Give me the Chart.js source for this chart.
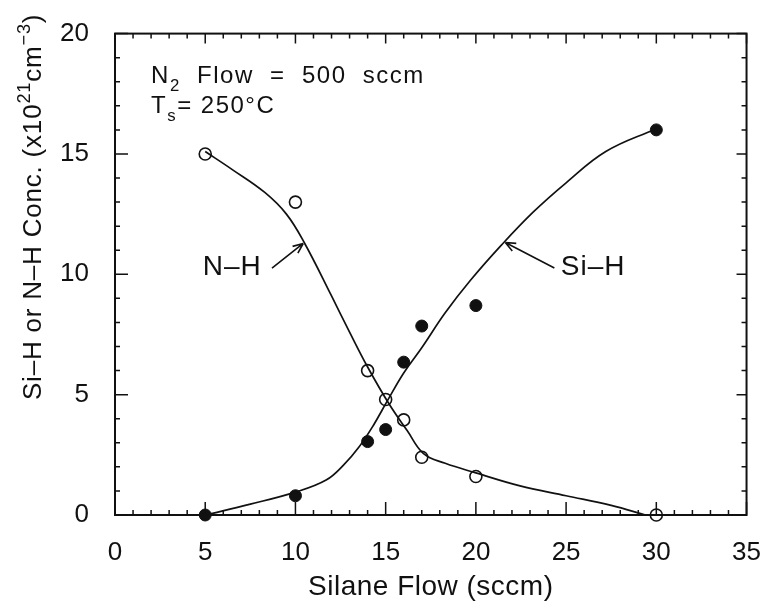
<!DOCTYPE html>
<html>
<head>
<meta charset="utf-8">
<script src="https://cdn.jsdelivr.net/npm/chart.js@4.4.0/dist/chart.umd.min.js"></script>
<style>
  html, body { margin: 0; padding: 0; background: #fff; }
  #wrap { width: 775px; height: 603px; }
</style>
</head>
<body>
<div id="wrap"><canvas id="chart" width="775" height="603"></canvas></div>
<script>
// ---- data ----
const silaneFlow = [5, 10, 14, 15, 16, 17, 20, 30];
const nhConc = [15.0, 13.0, 6.0, 4.8, 3.95, 2.4, 1.6, 0.0];
const sihConc = [0.0, 0.8, 3.05, 3.55, 6.35, 7.85, 8.7, 16.0];

// hand drawn fit curves
const nhFitFlow = [5, 6.5, 8.3, 9.5, 10.5, 12, 13, 14, 15.2, 16.2, 17.1, 18.3, 20, 22.5, 25, 27.5, 29.4];
const nhFitConc = [15.1, 14.35, 13.4, 12.5, 11.3, 9.1, 7.6, 6.15, 4.6, 3.5, 2.55, 2.15, 1.75, 1.2, 0.8, 0.4, 0.0];
const sihFitFlow = [5, 7.5, 10, 11.7, 12.7, 13.5, 14.3, 15.1, 16, 17, 18.3, 19.7, 21.4, 23.2, 25, 27.2, 30];
const sihFitConc = [0.0, 0.45, 0.95, 1.45, 2.1, 2.8, 3.7, 4.75, 5.9, 6.95, 8.4, 9.75, 11.2, 12.6, 13.8, 15.1, 16.05];

const xTicks = [0, 5, 10, 15, 20, 25, 30, 35];
const yTicks = [0, 5, 10, 15, 20];

const FONT = "'Liberation Sans', Arial, sans-serif";
const INK = '#111';

function toPts(xs, ys) {
  return xs.map((x, i) => ({ x: x, y: ys[i] }));
}

// draw text made of pieces, some of them sub/superscript
function drawRich(ctx, parts, x, y, size) {
  let cx = x;
  parts.forEach(p => {
    const s = (p.sub || p.sup) ? size * 0.7 : size;
    const dy = p.sup ? -size * 0.42 : (p.sub ? size * 0.32 : 0);
    ctx.font = s + 'px ' + FONT;
    ctx.fillText(p.t, cx, y + dy);
    cx += ctx.measureText(p.t).width;
  });
  return cx - x;
}

function richWidth(ctx, parts, size) {
  let w = 0;
  parts.forEach(p => {
    const s = (p.sub || p.sup) ? size * 0.7 : size;
    ctx.font = s + 'px ' + FONT;
    w += ctx.measureText(p.t).width;
  });
  return w;
}

function arrow(ctx, x1, y1, x2, y2) {
  const a = Math.atan2(y2 - y1, x2 - x1);
  ctx.beginPath();
  ctx.moveTo(x1, y1);
  ctx.lineTo(x2, y2);
  ctx.moveTo(x2, y2);
  ctx.lineTo(x2 - 11 * Math.cos(a - 0.4), y2 - 11 * Math.sin(a - 0.4));
  ctx.moveTo(x2, y2);
  ctx.lineTo(x2 - 11 * Math.cos(a + 0.4), y2 - 11 * Math.sin(a + 0.4));
  ctx.stroke();
}

// frame, inward ticks on all four sides, titles and notes
const framePlugin = {
  id: 'frame',
  afterDraw(chart) {
    const { ctx, chartArea: a, scales: { x, y } } = chart;
    ctx.save();
    ctx.strokeStyle = INK;
    ctx.fillStyle = INK;
    ctx.lineWidth = 2;
    ctx.strokeRect(a.left, a.top, a.right - a.left, a.bottom - a.top);

    ctx.lineWidth = 1.5;
    ctx.beginPath();
    for (let v = 0; v <= 35; v++) {
      const px = x.getPixelForValue(v);
      const major = v % 5 === 0;
      ctx.moveTo(px, a.bottom); ctx.lineTo(px, a.bottom - (major ? 13 : 5));
      ctx.moveTo(px, a.top); ctx.lineTo(px, a.top + (major ? 10 : 5));
    }
    for (let v = 0; v <= 20; v++) {
      const py = y.getPixelForValue(v);
      const major = v % 5 === 0;
      ctx.moveTo(a.left, py); ctx.lineTo(a.left + (major ? 13 : 5), py);
      ctx.moveTo(a.right, py); ctx.lineTo(a.right - (major ? 10 : 5), py);
    }
    ctx.stroke();

    // x title
    ctx.textBaseline = 'alphabetic';
    ctx.textAlign = 'center';
    ctx.letterSpacing = '0.5px';
    ctx.font = '28px ' + FONT;
    ctx.fillText('Silane Flow (sccm)', (a.left + a.right) / 2, 595);

    // y title, rotated
    ctx.textAlign = 'left';
    ctx.letterSpacing = '0.8px';
    const yParts = [{ t: 'Si\u2013H or N\u2013H Conc. (x10' }, { t: '21', sup: true }, { t: 'cm' }, { t: '\u22123', sup: true }, { t: ')' }];
    const yw = richWidth(ctx, yParts, 26);
    ctx.save();
    ctx.translate(41, y.getPixelForValue(12.8));
    ctx.rotate(-Math.PI / 2);
    drawRich(ctx, yParts, -yw / 2, 0, 26);
    ctx.restore();

    // conditions
    ctx.letterSpacing = '1.5px';
    drawRich(ctx, [{ t: 'N' }, { t: '2', sub: true }, { t: '  Flow  =  500  sccm' }], x.getPixelForValue(2.0), y.getPixelForValue(17.95), 24);
    drawRich(ctx, [{ t: 'T' }, { t: 's', sub: true }, { t: '= 250\u00b0C' }], x.getPixelForValue(2.0), y.getPixelForValue(16.7), 24);

    // curve labels with arrows
    ctx.letterSpacing = '1px';
    ctx.textAlign = 'center';
    ctx.textBaseline = 'middle';
    ctx.font = '28px ' + FONT;
    ctx.fillText('N\u2013H', x.getPixelForValue(6.5), y.getPixelForValue(10.3));
    ctx.fillText('Si\u2013H', x.getPixelForValue(26.5), y.getPixelForValue(10.3));
    ctx.lineWidth = 1.6;
    arrow(ctx, x.getPixelForValue(8.7), y.getPixelForValue(10.26), x.getPixelForValue(10.43), y.getPixelForValue(11.28));
    arrow(ctx, x.getPixelForValue(24.35), y.getPixelForValue(10.26), x.getPixelForValue(21.63), y.getPixelForValue(11.32));
    ctx.restore();
  }
};

const ctx = document.getElementById('chart').getContext('2d');
new Chart(ctx, {
  type: 'scatter',
  data: {
    datasets: [
      {
        label: 'N-H fit',
        type: 'line',
        data: toPts(nhFitFlow, nhFitConc),
        borderColor: INK,
        borderWidth: 1.7,
        pointRadius: 0,
        fill: false,
        tension: 0.4,
        clip: false
      },
      {
        label: 'Si-H fit',
        type: 'line',
        data: toPts(sihFitFlow, sihFitConc),
        borderColor: INK,
        borderWidth: 1.7,
        pointRadius: 0,
        fill: false,
        tension: 0.4,
        clip: false
      },
      {
        label: 'N-H',
        data: toPts(silaneFlow, nhConc),
        showLine: false,
        pointRadius: 6,
        pointBackgroundColor: '#fff',
        pointBorderColor: INK,
        pointBorderWidth: 1.6,
        clip: false
      },
      {
        label: 'Si-H',
        data: toPts(silaneFlow, sihConc),
        showLine: false,
        pointRadius: 6,
        pointBackgroundColor: INK,
        pointBorderColor: INK,
        pointBorderWidth: 1,
        clip: false
      }
    ]
  },
  options: {
    responsive: false,
    animation: false,
    layout: { padding: { top: 22, right: 16, left: 0, bottom: 0 } },
    plugins: {
      legend: { display: false },
      tooltip: { enabled: false }
    },
    scales: {
      x: {
        type: 'linear',
        min: 0,
        max: 35,
        afterBuildTicks: s => { s.ticks = xTicks.map(v => ({ value: v })); },
        afterFit: s => { s.height = 88; },
        grid: { display: false },
        border: { display: false },
        ticks: { font: { family: FONT, size: 26 }, color: INK, padding: 14, maxRotation: 0 }
      },
      y: {
        type: 'linear',
        min: 0,
        max: 20,
        afterBuildTicks: s => { s.ticks = yTicks.map(v => ({ value: v })); },
        afterFit: s => { s.width = 115; },
        grid: { display: false },
        border: { display: false },
        ticks: { font: { family: FONT, size: 26 }, color: INK, padding: 18 }
      }
    }
  },
  plugins: [framePlugin]
});
</script>
</body>
</html>
